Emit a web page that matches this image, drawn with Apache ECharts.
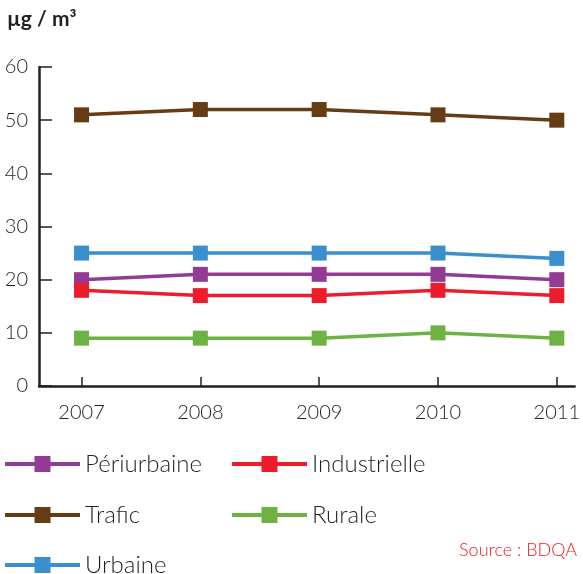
<!DOCTYPE html>
<html>
<head>
<meta charset="utf-8">
<script src="https://cdn.jsdelivr.net/npm/echarts@6/dist/echarts.min.js"></script>
<style>
  html, body { margin: 0; padding: 0; background: #fff; }
  #main { width: 583px; height: 574px; }
</style>
</head>
<body>
<div id="main"></div>
<script>
// données (µg/m³)
const years = [2007, 2008, 2009, 2010, 2011];
const periurbaine = [20, 21, 21, 21, 20];
const industrielle = [18, 17, 17, 18, 17];
const trafic = [51, 52, 52, 51, 50];
const rurale = [9, 9, 9, 10, 9];
const urbaine = [25, 25, 25, 25, 24];
const yTicks = [0, 10, 20, 30, 40, 50, 60];

const font = 'Lato, "Open Sans", sans-serif';
const textColor = '#231f20';

let myChart = echarts.init(document.getElementById('main'));

function serie(name, values, color) {
  return {
    name: name,
    type: 'line',
    data: years.map((y, i) => [y, values[i]]),
    symbol: 'rect',
    symbolSize: 15,
    lineStyle: { color: color, width: 3.5 },
    itemStyle: { color: color },
    emphasis: { disabled: true }
  };
}

// une légende par entrée, placées en grille 2 colonnes
function legende(name, left, top) {
  return {
    data: [name],
    left: left,
    top: top,
    padding: 0,
    itemWidth: 75,
    itemHeight: 20,
    itemGap: 0,
    lineStyle: { width: 4 },
    textStyle: { fontFamily: font, fontSize: 24, color: textColor, fontWeight: 300 },
    selectedMode: false
  };
}

let option = {
  animation: false,
  grid: { left: 39, top: 67, right: 3, bottom: 188, containLabel: false },
  xAxis: {
    type: 'value',
    min: 2006.642,
    max: 2011.15,
    axisLine: { show: true, onZero: false, lineStyle: { color: textColor, width: 2.5 } },
    axisTick: { show: true, inside: true, length: 9, customValues: years, lineStyle: { color: textColor, width: 1.5 } },
    axisLabel: {
      customValues: years, margin: 17,
      fontFamily: font, fontSize: 20, fontWeight: 300, color: textColor,
      formatter: v => String(v)
    },
    splitLine: { show: false }
  },
  yAxis: {
    type: 'value',
    min: 0,
    max: 60,
    interval: 10,
    axisLine: { show: true, lineStyle: { color: textColor, width: 2.5 } },
    axisTick: { show: true, inside: true, length: 13, customValues: yTicks, lineStyle: { color: textColor, width: 1.5 } },
    axisLabel: { margin: 11, fontFamily: font, fontSize: 20, fontWeight: 300, color: textColor },
    splitLine: { show: false }
  },
  legend: [
    legende('Périurbaine', 3, 452),
    legende('Industrielle', 230, 452),
    legende('Trafic', 3, 503),
    legende('Rurale', 230, 503),
    legende('Urbaine', 3, 553)
  ],
  graphic: [
    {
      type: 'text', left: 7, top: 9,
      style: { text: 'µg / m³', fontFamily: font, fontSize: 21, fontWeight: 'bold', fill: textColor }
    },
    {
      type: 'text', right: 6, top: 541,
      style: { text: 'Source : BDQA', fontFamily: font, fontSize: 18, fontWeight: 300, fill: '#ed1c24' }
    }
  ],
  series: [
    serie('Trafic', trafic, '#663c14'),
    serie('Urbaine', urbaine, '#3a8fcf'),
    serie('Périurbaine', periurbaine, '#933a94'),
    serie('Industrielle', industrielle, '#ed1c2b'),
    serie('Rurale', rurale, '#6db242')
  ]
};

myChart.setOption(option);
</script>
</body>
</html>
